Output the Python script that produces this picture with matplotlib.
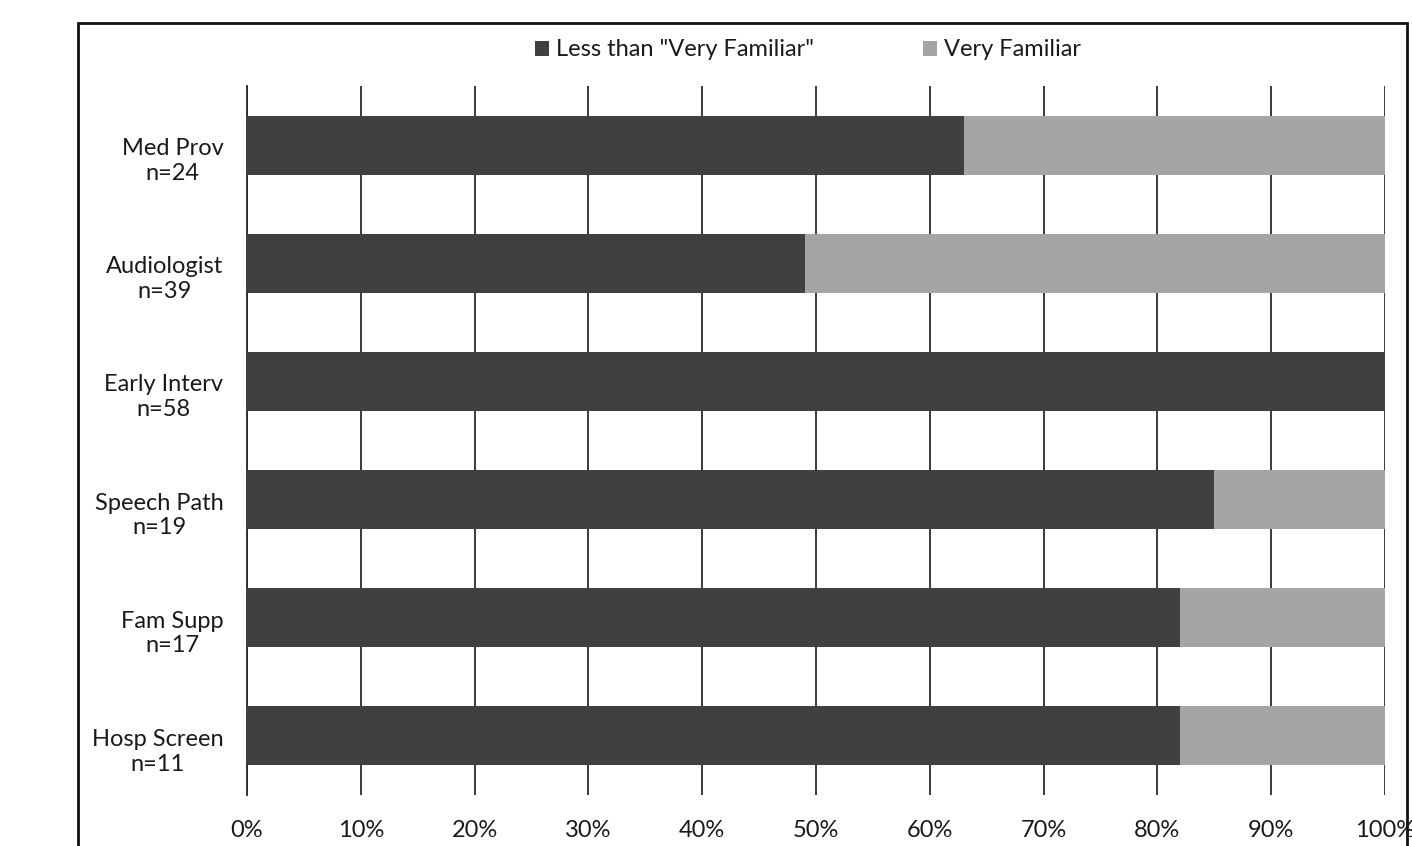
import matplotlib
matplotlib.use("Agg")
import matplotlib.pyplot as plt
from matplotlib.patches import Patch, Rectangle
from matplotlib.transforms import ScaledTranslation
from matplotlib.ticker import PercentFormatter

plt.rcParams['font.family'] = ['Lato', 'DejaVu Sans']

# Provider groups, top to bottom, with respondent counts
groups = ["Med Prov", "Audiologist", "Early Interv", "Speech Path", "Fam Supp", "Hosp Screen"]
counts = [24, 39, 58, 19, 17, 11]
# Share answering less than "Very Familiar" (%)
less_than_very = [63, 49, 100, 85, 82, 82]
# Share answering "Very Familiar" (%)
very_familiar = [37, 51, 0, 15, 18, 18]
x_ticks = list(range(0, 101, 10))

dark = "#404040"
light = "#a5a5a5"

fig = plt.figure(figsize=(14.12, 8.46), dpi=100)
ax = fig.add_axes([247 / 1412, 1 - 795 / 846, (1385 - 247) / 1412, (795 - 86) / 846])

y = list(range(len(groups)))
ax.barh(y, less_than_very, height=0.5, color=dark, zorder=3)
ax.barh(y, very_familiar, left=less_than_very, height=0.5, color=light, zorder=3)

ax.set_xlim(0, 100)
ax.set_ylim(len(groups) - 0.5, -0.5)
ax.set_xticks(x_ticks)
ax.xaxis.set_major_formatter(PercentFormatter(decimals=0))
ax.grid(axis='x', color='#2b2b2b', linewidth=1.3, zorder=0)
ax.set_axisbelow(True)

for side in ['top', 'right', 'bottom']:
    ax.spines[side].set_visible(False)
ax.spines['left'].set_color('#2b2b2b')
ax.spines['left'].set_linewidth(1.3)

ax.set_yticks(y)
ax.set_yticklabels([f"{g}\nn={n}" for g, n in zip(groups, counts)],
                   multialignment='center', linespacing=1.22)
ax.tick_params(axis='y', length=0, pad=17, labelsize=17, labelcolor='#1a1a1a')
ax.tick_params(axis='x', length=0, pad=18, labelsize=17, labelcolor='#1a1a1a')
shift = ScaledTranslation(0, -12 / 100, fig.dpi_scale_trans)
for lab in ax.get_yticklabels():
    lab.set_transform(lab.get_transform() + shift)

handles = [Patch(facecolor=dark, label='Less than "Very Familiar"'),
           Patch(facecolor=light, label='Very Familiar')]
fig.legend(handles=handles, loc='center', bbox_to_anchor=(808 / 1412, 1 - 50 / 846),
           ncol=2, frameon=False, fontsize=17, handlelength=0.6, handleheight=0.6,
           handletextpad=0.3, columnspacing=4.6, labelcolor='#1a1a1a')

# Outer frame of the chart area
fig.patches.append(Rectangle((78 / 1412, -0.05), (1407 - 78) / 1412, 1.05 - 23 / 846,
                             transform=fig.transFigure, fill=False,
                             edgecolor='#111111', linewidth=2.0))

fig.savefig("out.png", dpi=100, facecolor='white')
